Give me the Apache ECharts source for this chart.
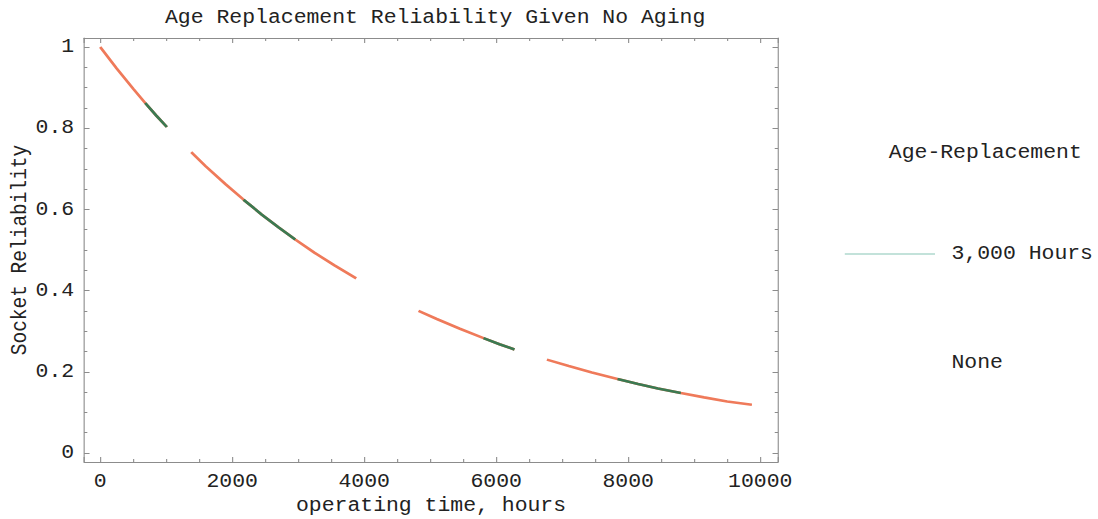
<!DOCTYPE html>
<html>
<head>
<meta charset="utf-8">
<title>Age Replacement Reliability Given No Aging</title>
<script src="https://cdn.jsdelivr.net/npm/echarts@6/dist/echarts.min.js"></script>
<style>
  html, body { margin: 0; padding: 0; background: #fff; overflow: hidden; }
  /* the plot is laid out on a narrower canvas and widened a little, giving the wide typewriter look */
  #chart { width: 998px; height: 519px; transform: scale(1.1, 1); transform-origin: 0 0; }
</style>
</head>
<body>
<div id="chart"></div>
<script>
// Reliability curve without replacement (null marks a break in the dashed curve)
const hoursNone = [
  0, 250, 500, 682, 850, 1010, null,
  1379, 1600, 1900, 2172, 2450, 2700, 2955, 3250, 3550, 3879, null,
  4823, 5100, 5450, 5808, 6050, 6277, null,
  6768, 7100, 7450, 7838, 8150, 8450, 8798, 9150, 9500, 9874
];
const reliabilityNone = [
  1.000, 0.947, 0.897, 0.862, 0.831, 0.803, null,
  0.741, 0.706, 0.662, 0.624, 0.587, 0.556, 0.526, 0.493, 0.462, 0.430, null,
  0.350, 0.330, 0.306, 0.283, 0.268, 0.255, null,
  0.230, 0.214, 0.198, 0.182, 0.170, 0.159, 0.148, 0.137, 0.127, 0.119
];

// Reliability curve with age replacement every 3,000 hours
const hours3000 = [
  682, 850, 1010, null,
  2172, 2450, 2700, 2955, null,
  5808, 6050, 6277, null,
  7838, 8150, 8450, 8798
];
const reliability3000 = [
  0.862, 0.831, 0.803, null,
  0.624, 0.587, 0.556, 0.526, null,
  0.283, 0.268, 0.255, null,
  0.182, 0.170, 0.159, 0.148
];

const seriesNames = ['None', '3,000 Hours'];

function pairs(xs, ys) {
  return xs.map((x, i) => (x === null ? ['-', '-'] : [x, ys[i]]));
}

const FONT = '"Liberation Mono", "DejaVu Sans Mono", monospace';
const FRAME = '#8c8c8c';
const TEXT = '#222';
const plainNumber = v => String(v);

const frameAxis = {
  axisLine: { show: true, onZero: false, lineStyle: { color: FRAME, width: 1 } },
  axisTick: { show: true, inside: true, length: 5, lineStyle: { color: FRAME } },
  minorTick: { show: true, splitNumber: 4, length: 3, lineStyle: { color: FRAME } },
  splitLine: { show: false },
  minorSplitLine: { show: false }
};

const xRange = { min: -245, max: 10270, splitNumber: 5 };
const yRange = { min: -0.0222, max: 1.0222, splitNumber: 5 };

const chart = echarts.init(document.getElementById('chart'), null, { renderer: 'svg' });

chart.setOption({
  backgroundColor: '#fff',
  animation: false,
  title: [
    {
      text: 'Age Replacement Reliability Given No Aging',
      left: 145, top: 3,
      textStyle: { fontFamily: FONT, fontSize: 19.5, fontWeight: 'normal', color: TEXT }
    },
    {
      text: 'Age-Replacement',
      left: 803, top: 138,
      textStyle: { fontFamily: FONT, fontSize: 19.5, fontWeight: 'normal', color: TEXT }
    }
  ],
  legend: {
    orient: 'vertical',
    left: 763, top: 239,
    data: [
      { name: '3,000 Hours', icon: 'rect', itemStyle: { color: '#c3e2da' } },
      { name: 'None', icon: 'rect', itemStyle: { color: 'rgba(0,0,0,0)' } }
    ],
    itemWidth: 82, itemHeight: 2, itemGap: 89,
    selectedMode: false,
    textStyle: { fontFamily: FONT, fontSize: 19.5, color: TEXT, padding: [0, 0, 0, 10], lineHeight: 20 }
  },
  grid: { left: 76.4, top: 38, width: 630.9, height: 424, containLabel: false, outerBoundsMode: 'none' },
  xAxis: [
    Object.assign({
      type: 'value', position: 'bottom',
      name: 'operating time, hours', nameLocation: 'middle', nameGap: 34, nameMoveOverlap: false,
      nameTextStyle: { fontFamily: FONT, fontSize: 19.5, color: TEXT },
      axisLabel: {
        fontFamily: FONT, fontSize: 19.5, color: TEXT, margin: 10,
        showMinLabel: false, showMaxLabel: false, formatter: plainNumber
      }
    }, xRange, frameAxis),
    Object.assign({
      type: 'value', position: 'top', axisLabel: { show: false }
    }, xRange, frameAxis)
  ],
  yAxis: [
    Object.assign({
      type: 'value', position: 'left',
      name: 'Socket Reliability', nameLocation: 'middle', nameGap: 48, nameMoveOverlap: false,
      nameTextStyle: { fontFamily: FONT, fontSize: 19.5, color: TEXT },
      axisLabel: {
        fontFamily: FONT, fontSize: 19.5, color: TEXT, margin: 9,
        showMinLabel: false, showMaxLabel: false, formatter: plainNumber
      }
    }, yRange, frameAxis),
    Object.assign({
      type: 'value', position: 'right', axisLabel: { show: false }
    }, yRange, frameAxis)
  ],
  series: [
    {
      name: seriesNames[0], type: 'line', xAxisIndex: 0, yAxisIndex: 0,
      data: pairs(hoursNone, reliabilityNone),
      showSymbol: false, connectNulls: false, smooth: false,
      lineStyle: { color: '#ef7a5a', width: 2.6 },
      itemStyle: { color: '#ef7a5a' },
      z: 2
    },
    {
      name: seriesNames[1], type: 'line', xAxisIndex: 0, yAxisIndex: 0,
      data: pairs(hours3000, reliability3000),
      showSymbol: false, connectNulls: false, smooth: false,
      lineStyle: { color: '#3b7a52', width: 2.6 },
      itemStyle: { color: '#3b7a52' },
      z: 3
    }
  ]
});
</script>
</body>
</html>
